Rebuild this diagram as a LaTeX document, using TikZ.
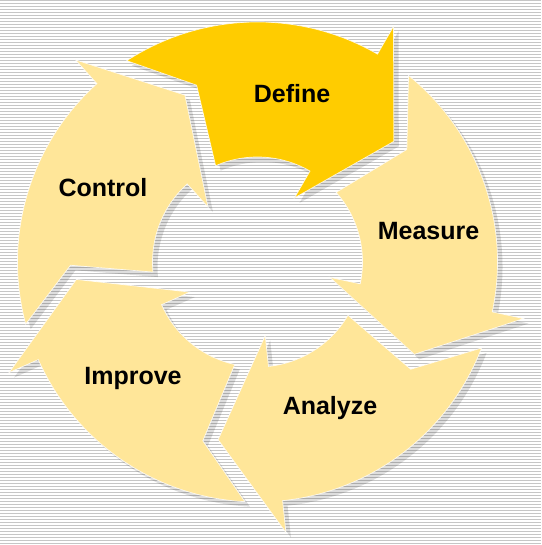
\documentclass[tikz,border=0pt]{standalone}
\usepackage{fontspec}
\setmainfont{Liberation Sans}
\definecolor{defc}{HTML}{FFCC00}
\definecolor{lightc}{HTML}{FFE699}
\definecolor{stripec}{HTML}{C6C6C6}
\begin{document}
\begin{tikzpicture}[x=1pt,y=1pt,
  seglabel/.style={font=\bfseries\fontsize{25}{30}\selectfont, anchor=base, inner sep=0pt, text=black},
  segshadow/.style={fill=black, fill opacity=0.13},
  segbody/.style={draw=white, draw opacity=0.8, line width=0.7pt}]
\useasboundingbox (0,0) rectangle (541,545);
\fill[white] (0,0) rectangle (541,545);
\foreach \i in {0,...,181} \draw[stripec, line width=1pt] (0,{\i*3+1.5}) -- (541,{\i*3+1.5});
\begin{scope}[shift={(257.5,283)}]
  % shadows
  \foreach \H in {60,-12,-84,-156,-228} {
    \fill[segshadow, shift={(5,-5)}] ({\H+63}:240) arc[start angle={\H+63}, end angle=\H, radius=240]
      -- (\H:272) -- ({\H-18.5}:182) -- (\H:74) -- (\H:105)
      arc[start angle=\H, end angle={\H+53.5}, radius=105] -- ({\H+49}:187) -- cycle;
  }
  % segments
  \foreach \H/\c in {60/defc,-12/lightc,-84/lightc,-156/lightc,-228/lightc} {
    \filldraw[segbody, fill=\c] ({\H+63}:240) arc[start angle={\H+63}, end angle=\H, radius=240]
      -- (\H:272) -- ({\H-18.5}:182) -- (\H:74) -- (\H:105)
      arc[start angle=\H, end angle={\H+53.5}, radius=105] -- ({\H+49}:187) -- cycle;
  }
\end{scope}
\node[seglabel] (define) at (292,442) {Define};
\node[seglabel] (measure) at (428.5,305) {Measure};
\node[seglabel] (analyze) at (330,130) {Analyze};
\node[seglabel] (improve) at (133,160) {Improve};
\node[seglabel] (control) at (103,348) {Control};
\end{tikzpicture}
\end{document}
